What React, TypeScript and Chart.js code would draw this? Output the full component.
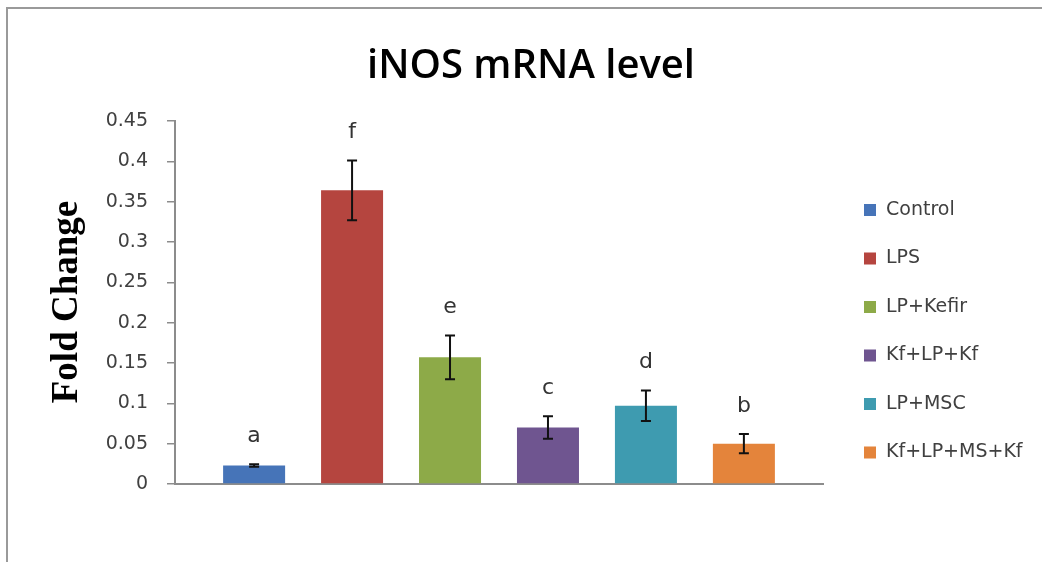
import React, { useEffect, useRef } from "react";
import { Chart, registerables } from "chart.js";

Chart.register(...registerables);

const chartTitle = "iNOS mRNA level";
const yAxisTitle = "Fold Change";
const groups = ["Control", "LPS", "LP+Kefir", "Kf+LP+Kf", "LP+MSC", "Kf+LP+MS+Kf"];
const foldChange = [0.023, 0.364, 0.157, 0.07, 0.097, 0.05];
const errors = [0.0015, 0.037, 0.027, 0.014, 0.019, 0.012];
const letters = ["a", "f", "e", "c", "d", "b"];
const colors = ["#4674B8", "#B5453F", "#8DAA48", "#6F5590", "#3E9BB0", "#E4843B"];
const tickLabels = ["0", "0.05", "0.1", "0.15", "0.2", "0.25", "0.3", "0.35", "0.4", "0.45"];

const overlayPlugin = {
  id: "overlay",
  beforeDraw(chart: any) {
    const ctx = chart.ctx;
    ctx.save();
    ctx.fillStyle = "#ffffff";
    ctx.fillRect(0, 0, chart.width, chart.height);
    ctx.strokeStyle = "#9a9a9a";
    ctx.lineWidth = 2;
    ctx.beginPath();
    ctx.moveTo(7, chart.height);
    ctx.lineTo(7, 8);
    ctx.lineTo(chart.width, 8);
    ctx.stroke();
    ctx.restore();
  },
  afterDatasetsDraw(chart: any) {
    const ctx = chart.ctx;
    const y = chart.scales.y;
    ctx.save();
    // error bars and letters
    groups.forEach((_, i) => {
      const bar = chart.getDatasetMeta(i).data[0];
      if (!bar) return;
      const x = bar.x;
      const top = y.getPixelForValue(foldChange[i] + errors[i]);
      const bot = y.getPixelForValue(foldChange[i] - errors[i]);
      ctx.strokeStyle = "#111111";
      ctx.lineWidth = 2;
      ctx.beginPath();
      ctx.moveTo(x, top);
      ctx.lineTo(x, bot);
      ctx.moveTo(x - 5, top);
      ctx.lineTo(x + 5, top);
      ctx.moveTo(x - 5, bot);
      ctx.lineTo(x + 5, bot);
      ctx.stroke();
      ctx.fillStyle = "#333333";
      ctx.font = "22px 'DejaVu Sans'";
      ctx.textAlign = "center";
      ctx.textBaseline = "middle";
      ctx.fillText(letters[i], x, top - 28);
    });
    // title
    ctx.fillStyle = "#000000";
    ctx.font = "600 40px 'Open Sans'";
    ctx.textAlign = "center";
    ctx.textBaseline = "alphabetic";
    ctx.fillText(chartTitle, 531, 78);
    // y axis title
    ctx.save();
    ctx.translate(77, 302);
    ctx.rotate(-Math.PI / 2);
    ctx.font = "bold 37px 'Liberation Serif'";
    ctx.fillStyle = "#000000";
    ctx.textAlign = "center";
    ctx.textBaseline = "alphabetic";
    ctx.fillText(yAxisTitle, 0, 0);
    ctx.restore();
    // legend
    ctx.font = "19px 'DejaVu Sans'";
    ctx.textAlign = "left";
    ctx.textBaseline = "middle";
    groups.forEach((g, i) => {
      const cy = 210 + i * 48.5;
      ctx.fillStyle = colors[i];
      ctx.fillRect(864, cy - 6, 12, 12);
      ctx.fillStyle = "#404040";
      ctx.fillText(g, 886, cy);
    });
    ctx.restore();
  },
};

export default function App() {
  const ref = useRef<HTMLCanvasElement | null>(null);
  useEffect(() => {
    if (!ref.current) return;
    const chart = new Chart(ref.current, {
      type: "bar",
      data: {
        labels: [""],
        datasets: groups.map((g, i) => ({
          label: g,
          data: [foldChange[i]],
          backgroundColor: colors[i],
          borderWidth: 0,
          categoryPercentage: 0.907,
          barPercentage: 0.633,
        })),
      },
      options: {
        animation: false,
        responsive: false,
        maintainAspectRatio: false,
        layout: { padding: { left: 0, right: 219, top: 121, bottom: 78 } },
        plugins: {
          legend: { display: false },
          title: { display: false },
          tooltip: { enabled: false },
        },
        scales: {
          x: {
            ticks: { display: false },
            grid: { display: false },
            border: { display: true, color: "#8c8c8c", width: 2 },
            afterFit: (s: any) => {
              s.height = 0;
            },
          },
          y: {
            min: 0,
            max: 0.45,
            ticks: {
              stepSize: 0.05,
              padding: 19,
              color: "#404040",
              font: { family: "'DejaVu Sans'", size: 19 },
              callback: (_v: any, idx: number) => tickLabels[idx],
            },
            grid: {
              drawOnChartArea: false,
              drawTicks: true,
              tickLength: 8,
              color: "#8c8c8c",
              lineWidth: 1.5,
            },
            border: { display: true, color: "#8c8c8c", width: 2 },
            afterFit: (s: any) => {
              s.width = 175;
            },
          },
        },
      },
      plugins: [overlayPlugin],
    });
    return () => chart.destroy();
  }, []);
  return (
    <div style={{ position: "absolute", left: 0, top: 0, width: 1042, height: 562, background: "#fff" }}>
      <canvas ref={ref} width={1042} height={562} style={{ width: 1042, height: 562, display: "block" }} />
    </div>
  );
}
